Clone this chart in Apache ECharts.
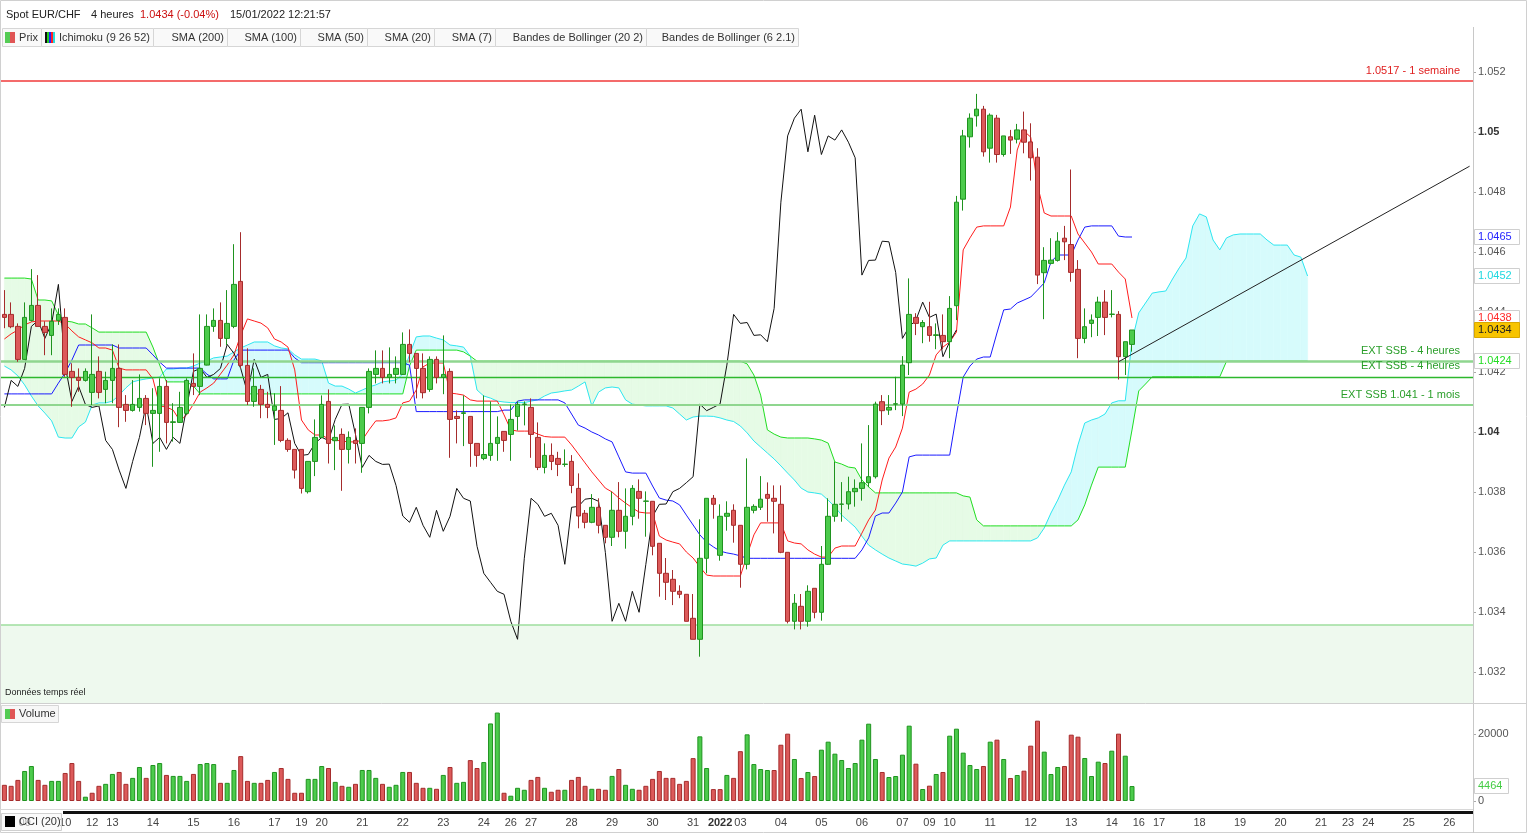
<!DOCTYPE html>
<html><head><meta charset="utf-8">
<script src="https://cdn.jsdelivr.net/npm/echarts@6/dist/echarts.min.js"></script>
<style>html,body{margin:0;padding:0;background:#fff;}#c{width:1527px;height:833px;}</style>
</head><body><div id="c"></div>
<script>
// ---------- DATA ----------
const opens = [
/*0*/ 1.04392,1.04392,1.04352,1.04242,1.04372,1.04422,1.04352,1.04322,1.04372,1.04382,
/*10*/1.04202,1.04182,1.04172,1.04132,1.04202,1.04142,1.04172,1.04212,1.04092,1.04072,
/*20*/1.04082,1.04112,1.04062,1.04062,1.04152,1.04032,1.04032,1.04062,1.04162,1.04152,
/*30*/1.04223,1.04352,1.04372,1.04312,1.04352,1.04502,1.04222,1.04102,1.04142,1.04092,
/*40*/1.04072,1.04072,1.03972,1.03942,1.03942,1.03801,1.03902,1.03982,1.04102,1.03971,
/*50*/1.03992,1.03942,1.03972,1.03962,1.04082,1.04192,1.04212,1.04182,1.04192,1.04192,
/*60*/1.04292,1.04262,1.04212,1.04142,1.04242,1.04182,1.04202,1.04052,1.04062,1.04052,
/*70*/1.03962,1.03912,1.03922,1.03962,1.04002,1.03992,1.04052,1.04092,1.04082,1.03982,
/*80*/1.03882,1.03922,1.03912,1.03892,1.03902,1.03812,1.03729,1.03699,1.03749,1.03689,
/*90*/1.03649,1.03739,1.03669,1.03719,1.03802,1.03769,1.03769,1.03629,1.03529,1.03509,
/*100*/1.03469,1.03459,1.03379,1.03309,1.03579,1.03779,1.03589,1.03719,1.03739,1.03689,
/*110*/1.03559,1.03739,1.03749,1.03792,1.03779,1.03759,1.03599,1.03369,1.03419,1.03369,
/*120*/1.03479,1.03399,1.03559,1.03719,1.03759,1.0376,1.03801,1.03812,1.03831,1.03851,
/*130*/1.04101,1.04073,1.04093,1.04093,1.04231,1.04382,1.04351,1.04351,1.04322,1.04322,
/*140*/1.04301,1.04421,1.04776,1.04984,1.05054,1.05076,1.04946,1.05046,1.04925,1.04984,
/*150*/1.04976,1.05007,1.04967,1.04916,1.04531,1.04562,1.04572,1.04646,1.04625,1.04542,
/*160*/1.04312,1.04362,1.04382,1.04433,1.04392,1.04392,1.04251,1.04292];
const closes = [
/*0*/ 1.04382,1.04351,1.04242,1.04382,1.04422,1.04352,1.04332,1.04369,1.04392,1.04192,
/*10*/1.04182,1.04172,1.04202,1.04192,1.04132,1.04172,1.04212,1.04082,1.04072,1.04092,
/*20*/1.04112,1.04062,1.04072,1.04152,1.04032,1.04034,1.04082,1.04172,1.04152,1.04212,
/*30*/1.04352,1.04372,1.04312,1.04362,1.04492,1.04222,1.04102,1.04152,1.04092,1.04082,
/*40*/1.04087,1.03972,1.03942,1.03873,1.03812,1.03902,1.03982,1.04092,1.03962,1.03982,
/*50*/1.03942,1.03982,1.03962,1.04082,1.04202,1.04212,1.04182,1.04192,1.04212,1.04292,
/*60*/1.04262,1.04212,1.04131,1.04242,1.04182,1.04192,1.04042,1.04045,1.04064,1.03962,
/*70*/1.03922,1.03925,1.03962,1.03982,1.03972,1.04042,1.04092,1.04093,1.03992,1.03882,
/*80*/1.03922,1.03902,1.03892,1.03893,1.03822,1.0372,1.03699,1.03749,1.03689,1.03649,
/*90*/1.03739,1.03669,1.03719,1.03812,1.03779,1.0377,1.03619,1.03529,1.03499,1.03469,
/*100*/1.03459,1.03369,1.03309,1.03579,1.03779,1.03759,1.03719,1.03729,1.03689,1.03559,
/*110*/1.03749,1.03752,1.03776,1.03779,1.03769,1.03599,1.03369,1.03429,1.03369,1.03469,
/*120*/1.03399,1.03559,1.03719,1.03759,1.0376,1.03801,1.03812,1.03831,1.03851,1.04093,
/*130*/1.04071,1.04082,1.04094,1.04223,1.04392,1.04362,1.04365,1.04322,1.04324,1.04301,
/*140*/1.04412,1.04766,1.04987,1.05046,1.05076,1.04934,1.05056,1.04925,1.04987,1.04973,
/*150*/1.05007,1.04966,1.04914,1.04523,1.04572,1.04573,1.04636,1.04634,1.04532,1.04312,
/*160*/1.04351,1.04373,1.04433,1.04382,1.04393,1.04251,1.04301,1.0434];
const lows = [
/*0*/ 1.04346,1.04346,1.04234,1.0424,1.04368,1.04352,1.04256,1.04256,1.04357,1.04184,
/*10*/1.04084,1.04134,1.04168,1.0409,1.04112,1.04096,1.04096,1.04016,1.04034,1.04068,
/*20*/1.04068,1.04023,1.03884,1.03934,1.03962,1.03968,1.0403,1.04057,1.04123,1.04123,
/*30*/1.04222,1.04334,1.04284,1.0429,1.04346,1.04212,1.0409,1.04084,1.04046,1.04046,
/*40*/1.03957,1.03966,1.03934,1.03845,1.03795,1.03795,1.03853,1.03979,1.03895,1.03873,
/*50*/1.03804,1.03895,1.03895,1.03864,1.04062,1.04162,1.04162,1.04162,1.04162,1.0419,
/*60*/1.04232,1.04112,1.04112,1.04134,1.04162,1.04126,1.03914,1.03962,1.03953,1.03884,
/*70*/1.03884,1.03906,1.03904,1.03904,1.03934,1.03904,1.04005,1.04022,1.03914,1.03873,
/*80*/1.03862,1.03873,1.03853,1.03884,1.03796,1.03679,1.03679,1.03696,1.03662,1.03629,
/*90*/1.0362,1.03649,1.03611,1.03689,1.03711,1.03651,1.03589,1.03451,1.0344,1.03423,
/*100*/1.03446,1.03369,1.03309,1.03251,1.03529,1.03711,1.03571,1.03671,1.03631,1.03481,
/*110*/1.03542,1.03729,1.0374,1.03701,1.03662,1.03596,1.03362,1.03342,1.03342,1.03351,
/*120*/1.03379,1.03371,1.03557,1.03701,1.03701,1.03742,1.03751,1.03771,1.03816,1.03845,
/*130*/1.04023,1.04057,1.04073,1.04053,1.0419,1.04323,1.04296,1.04301,1.04276,1.04276,
/*140*/1.04246,1.04373,1.04738,1.04948,1.05018,1.04918,1.04898,1.04898,1.04918,1.04927,
/*150*/1.04962,1.04929,1.04838,1.04493,1.04376,1.04559,1.04568,1.04573,1.04501,1.04246,
/*160*/1.04296,1.04316,1.0432,1.04323,1.04382,1.04175,1.0419,1.04268];
const highs = [
/*0*/ 1.04473,1.04432,1.04362,1.04432,1.04543,1.04523,1.04369,1.04412,1.04412,1.04412,
/*10*/1.04229,1.04212,1.04212,1.04392,1.04252,1.04201,1.04292,1.04292,1.04123,1.04173,
/*20*/1.04192,1.04123,1.04146,1.04179,1.04173,1.04096,1.04134,1.04179,1.04262,1.04392,
/*30*/1.04392,1.04412,1.04432,1.04473,1.04626,1.04666,1.04279,1.04212,1.04157,1.04134,
/*40*/1.04129,1.04153,1.03979,1.03942,1.03942,1.03902,1.04042,1.04122,1.04142,1.04022,
/*50*/1.04012,1.04002,1.04012,1.04082,1.04212,1.04272,1.04272,1.04282,1.04252,1.04332,
/*60*/1.04342,1.04262,1.04262,1.04252,1.04252,1.04322,1.04212,1.04072,1.04122,1.04052,
/*70*/1.03962,1.04122,1.04102,1.04052,1.04002,1.04092,1.04102,1.04102,1.04112,1.04032,
/*80*/1.03962,1.03962,1.03934,1.03942,1.03923,1.03862,1.0374,1.03793,1.03779,1.03689,
/*90*/1.03801,1.03833,1.03812,1.03823,1.03842,1.03802,1.03769,1.03629,1.0358,1.0354,
/*100*/1.03489,1.03459,1.0346,1.03709,1.03779,1.0379,1.03759,1.03769,1.03759,1.03689,
/*110*/1.03912,1.03759,1.03853,1.03832,1.03822,1.03822,1.03599,1.0346,1.0346,1.03489,
/*120*/1.03479,1.0362,1.03779,1.03901,1.03833,1.03851,1.03842,1.03962,1.04023,1.04101,
/*130*/1.04123,1.04123,1.04184,1.04253,1.04512,1.04396,1.04373,1.04434,1.04362,1.04392,
/*140*/1.04453,1.04787,1.05007,1.05062,1.05127,1.05087,1.05062,1.05057,1.04987,1.05007,
/*150*/1.05027,1.05068,1.05029,1.04946,1.04616,1.04646,1.04666,1.04687,1.04875,1.04573,
/*160*/1.04412,1.04392,1.04451,1.04473,1.04473,1.04403,1.04301,1.0434];
const volumes = [
/*0*/ 4830,4530,6300,8960,10440,6300,4830,6000,6000,8370,
/*10*/11330,6000,1280,2460,4530,5120,8080,8670,5120,6900,
/*20*/10150,6900,10740,11330,7780,7490,7490,6000,8080,11030,
/*30*/11330,11030,5420,5420,9260,13400,6000,5420,5420,6300,
/*40*/8670,9850,6600,2460,2460,6600,6600,10440,9850,5710,
/*50*/4530,4240,5120,9260,9260,6900,5120,4240,4830,8670,
/*60*/8670,5420,3940,3940,3640,7780,10150,5420,5710,12210,
/*70*/9850,11620,23150,26400,2460,1580,3940,3350,6300,7190,
/*80*/3940,2760,3350,3350,6300,7190,4530,3640,3640,3350,
/*90*/7490,9550,4830,3640,3350,4530,6600,8960,6900,6900,
/*100*/5120,6000,12800,19300,9850,3550,3550,7780,6900,14870,
/*110*/19900,11030,9550,9250,9250,16800,20100,12540,6870,8660,
/*120*/7460,15320,17710,14130,12240,9850,11340,18310,23080,12540,
/*130*/8660,7160,7460,13830,22490,11140,3580,4580,8060,8660,
/*140*/19500,21590,14430,10750,9550,10450,17710,18310,12540,6870,
/*150*/7760,9050,16520,23980,14730,8060,10150,10450,19800,19200,
/*160*/12840,7460,11740,11340,15020,20100,13530,4464];
// Ichimoku lines
const tenkan = [
/*0*/ 1.0431,1.04327,1.0434,1.04357,1.04367,1.0437,1.0437,1.0437,1.0437,1.0436,
/*10*/1.04337,1.04317,1.04307,1.04297,1.0428,1.0428,1.04273,1.04213,1.04207,1.04207,
/*20*/1.04207,1.04207,1.04177,1.04087,1.04083,1.04073,1.04037,1.04057,1.04093,1.04133,
/*30*/1.04147,1.04163,1.04193,1.04223,1.04257,1.04323,1.04377,1.0437,1.04363,1.04347,
/*40*/1.0431,1.043,1.04283,1.04207,1.0404,1.04007,1.0399,1.0399,1.03977,1.03973,
/*50*/1.0397,1.03967,1.03967,1.03973,1.04007,1.04037,1.04037,1.0404,1.04047,1.04097,
/*60*/1.04103,1.0414,1.04217,1.0423,1.0423,1.0423,1.0413,1.04127,1.04123,1.04107,
/*70*/1.04103,1.04103,1.04103,1.04103,1.04057,1.04007,1.04003,1.04003,1.04003,1.03993,
/*80*/1.03985,1.03983,1.03983,1.03983,1.03957,1.03927,1.03897,1.03867,1.0384,1.03813,
/*90*/1.038,1.0378,1.03763,1.03747,1.03733,1.0373,1.0373,1.03653,1.0364,1.03633,
/*100*/1.03627,1.036,1.0358,1.0355,1.03523,1.0352,1.0352,1.0352,1.0352,1.0352,
/*110*/1.0359,1.03657,1.03697,1.03697,1.03697,1.03697,1.03637,1.0363,1.03627,1.03607,
/*120*/1.03593,1.03583,1.03583,1.03613,1.0362,1.0362,1.0362,1.03663,1.03707,1.0374,
/*130*/1.0384,1.03913,1.0395,1.04013,1.04133,1.04143,1.0416,1.0419,1.04257,1.04283,
/*140*/1.043,1.04333,1.04607,1.04647,1.04683,1.04687,1.04687,1.04687,1.04687,1.0475,
/*150*/1.0494,1.05003,1.04983,1.04823,1.0473,1.0472,1.0472,1.0472,1.0472,1.0466,
/*160*/1.0463,1.046,1.0456,1.0456,1.0456,1.04533,1.0451,1.0438];
const kijun = [
/*0*/ 1.04127,1.04127,1.04127,1.04127,1.04127,1.04127,1.04127,1.04127,1.04163,1.04197,
/*10*/1.0424,1.0429,1.0429,1.0429,1.0429,1.0429,1.0429,1.0428,1.0428,1.0428,
/*20*/1.0428,1.0428,1.04257,1.04233,1.04213,1.04213,1.04213,1.04213,1.04213,1.04213,
/*30*/1.04193,1.04177,1.04177,1.04177,1.0424,1.04273,1.04273,1.04273,1.04273,1.04273,
/*40*/1.04273,1.04273,1.04273,1.04247,1.04231,1.04231,1.04231,1.04231,1.04231,1.04231,
/*50*/1.04231,1.04231,1.04231,1.04231,1.04231,1.04231,1.04231,1.04231,1.04231,1.04231,
/*60*/1.04223,1.04068,1.04068,1.04068,1.04068,1.04068,1.04068,1.04068,1.04068,1.04068,
/*70*/1.04068,1.04068,1.04068,1.04068,1.04073,1.04073,1.04103,1.04107,1.04107,1.04107,
/*80*/1.04107,1.04107,1.04107,1.04097,1.0406,1.04023,1.04013,1.04,1.0399,1.03977,
/*90*/1.03967,1.03917,1.03867,1.03863,1.03863,1.03863,1.0382,1.0378,1.03773,1.0377,
/*100*/1.03757,1.03723,1.0369,1.03657,1.03633,1.03617,1.03603,1.03597,1.03593,1.03587,
/*110*/1.03579,1.03579,1.03579,1.03579,1.03579,1.03579,1.03579,1.03579,1.03579,1.03579,
/*120*/1.03579,1.03579,1.03579,1.03579,1.03579,1.03579,1.03579,1.03607,1.03647,1.0372,
/*130*/1.0373,1.0373,1.03763,1.038,1.03917,1.03923,1.03923,1.03923,1.03923,1.03923,
/*140*/1.03923,1.04057,1.04183,1.0422,1.04243,1.0425,1.0425,1.0433,1.04407,1.0441,
/*150*/1.0443,1.0444,1.0445,1.04473,1.04497,1.04567,1.0459,1.0459,1.0459,1.0464,
/*160*/1.04683,1.04687,1.04687,1.04687,1.04687,1.04653,1.0465,1.0465];
const senkouA = [
/*0*/ 1.0422,1.04207,1.04187,1.04157,1.0412,1.04087,1.04063,1.04037,1.03983,1.0398,
/*10*/1.0398,1.04017,1.04033,1.0409,1.04097,1.04097,1.04103,1.04123,1.04147,1.04167,
/*20*/1.04173,1.04177,1.0418,1.04183,1.0421,1.0421,1.04213,1.04213,1.0422,1.0423,
/*30*/1.04237,1.04247,1.0425,1.04253,1.04267,1.0428,1.0429,1.043,1.043,1.043,
/*40*/1.04287,1.0428,1.04277,1.04257,1.04243,1.04243,1.04243,1.04237,1.04163,1.04153,
/*50*/1.04153,1.04143,1.0413,1.0414,1.0415,1.04157,1.04167,1.0417,1.04173,1.04193,
/*60*/1.04257,1.04317,1.0432,1.0432,1.04313,1.04307,1.0429,1.04287,1.04283,1.04253,
/*70*/1.0414,1.0412,1.04113,1.04103,1.041,1.04098,1.04098,1.04098,1.04103,1.04107,
/*80*/1.0412,1.0413,1.04133,1.04137,1.0414,1.04153,1.04167,1.04087,1.04133,1.04147,
/*90*/1.0415,1.04147,1.04107,1.04093,1.0409,1.04087,1.04087,1.04087,1.04087,1.0408,
/*100*/1.0406,1.0404,1.0405,1.04053,1.04053,1.04052,1.04047,1.0404,1.04035,1.0402,
/*110*/1.03997,1.0397,1.0395,1.0393,1.0391,1.03887,1.03863,1.0384,1.03813,1.038,
/*120*/1.03797,1.03793,1.03773,1.0375,1.03723,1.03703,1.03683,1.03653,1.03623,1.03607,
/*130*/1.03593,1.0358,1.0357,1.0356,1.03557,1.03553,1.03563,1.03577,1.0358,1.03623,
/*140*/1.03637,1.03637,1.03637,1.03637,1.03637,1.03637,1.03637,1.03637,1.03637,1.03637,
/*150*/1.03637,1.03637,1.03637,1.03647,1.0368,1.0373,1.03773,1.03823,1.03867,1.03957,
/*160*/1.0403,1.0404,1.04047,1.0406,1.04097,1.04104,1.04104,1.04303,1.04397,1.0443,
/*170*/1.04463,1.04467,1.0447,1.0451,1.04547,1.0458,1.04687,1.04727,1.04717,1.0464,
/*180*/1.04607,1.04647,1.04657,1.0466,1.0466,1.0466,1.0466,1.0464,1.04623,1.04623,
/*190*/1.04623,1.0459,1.04583,1.0452];
const senkouB = [
/*0*/ 1.04513,1.04513,1.04513,1.04513,1.0451,1.0444,1.0444,1.04437,1.0439,1.0437,
/*10*/1.04367,1.0436,1.0436,1.04347,1.04333,1.04333,1.04333,1.04333,1.04333,1.04333,
/*20*/1.04333,1.04333,1.04283,1.04223,1.04167,1.04167,1.04167,1.04167,1.04153,1.04127,
/*30*/1.04127,1.04127,1.04127,1.04127,1.04127,1.04127,1.04127,1.04127,1.04127,1.04127,
/*40*/1.04127,1.04127,1.04127,1.04127,1.04127,1.04127,1.04127,1.04127,1.04127,1.04127,
/*50*/1.04127,1.04127,1.04127,1.04127,1.04127,1.04127,1.04127,1.04127,1.04127,1.04127,
/*60*/1.0422,1.04273,1.04273,1.04273,1.04273,1.04273,1.04273,1.04273,1.04267,1.04253,
/*70*/1.04236,1.04236,1.04236,1.04236,1.04236,1.04236,1.04236,1.04236,1.04236,1.04236,
/*80*/1.04236,1.04236,1.04236,1.04236,1.04236,1.04236,1.04236,1.04236,1.04236,1.04236,
/*90*/1.04236,1.04236,1.04236,1.04236,1.04236,1.04236,1.04236,1.04236,1.04236,1.04236,
/*100*/1.04236,1.04236,1.04236,1.04236,1.04236,1.04236,1.04236,1.04236,1.04236,1.04236,
/*110*/1.04227,1.0419,1.04123,1.04007,1.03993,1.03983,1.0398,1.0398,1.0398,1.0398,
/*120*/1.03977,1.03973,1.03963,1.039,1.03893,1.03883,1.0388,1.0384,1.03817,1.03797,
/*130*/1.03797,1.03797,1.03797,1.03797,1.03797,1.03797,1.03797,1.03797,1.03797,1.03797,
/*140*/1.03797,1.03797,1.03787,1.03783,1.03707,1.03687,1.03687,1.03687,1.03687,1.03687,
/*150*/1.03687,1.03687,1.03687,1.03687,1.03687,1.03687,1.03687,1.03687,1.03687,1.03707,
/*160*/1.03757,1.03823,1.03883,1.03883,1.03883,1.03883,1.03883,1.04007,1.04137,1.0416,
/*170*/1.04184,1.04184,1.04184,1.04184,1.04184,1.04184,1.04184,1.04184,1.04184,1.04184,
/*180*/1.04184,1.04236,1.04236,1.04236,1.04236,1.04236,1.04236,1.04236,1.04236,1.04236,
/*190*/1.04236,1.04236,1.04236,1.04236];
const CHIKOU_SHIFT = 26;
const SLOT_COUNT = 218;
const dayStarts = [[3,'09'],[9,'10'],[13,'12'],[16,'13'],[22,'14'],[28,'15'],[34,'16'],[40,'17'],[44,'19'],[47,'20'],
 [53,'21'],[59,'22'],[65,'23'],[71,'24'],[75,'26'],[78,'27'],[84,'28'],[90,'29'],[96,'30'],[102,'31'],
 [106,'2022'],[109,'03'],[115,'04'],[121,'05'],[127,'06'],[133,'07'],[137,'09'],[140,'10'],[146,'11'],[152,'12'],
 [158,'13'],[164,'14'],[168,'16'],[171,'17'],[177,'18'],[183,'19'],[189,'20'],[195,'21'],[199,'23'],[202,'24'],
 [208,'25'],[214,'26']];
const priceTicks = [1.032,1.034,1.036,1.038,1.04,1.042,1.044,1.046,1.048,1.05,1.052];
const boldTicks = [1.04,1.05];
const volumeTicks = [0,20000];
const levels = [
 {value:1.0517, text:'1.0517 - 1 semaine', kind:'week'},
 {value:1.04236, text:'EXT SSB - 4 heures', kind:'ssbA'},
 {value:1.04184, text:'EXT SSB - 4 heures', kind:'ssbB'},
 {value:1.0409, text:'EXT SSB 1.041 - 1 mois', kind:'month'},
 {value:1.03357, text:'', kind:'zone'}];
const trendLine = [[165,1.04234],[217,1.04886]];
const legendItems = ['Prix','Ichimoku (9 26 52)','SMA (200)','SMA (100)','SMA (50)','SMA (20)','SMA (7)','Bandes de Bollinger (20 2)','Bandes de Bollinger (6 2.1)'];
const headerParts = ['Spot EUR/CHF','4 heures','1.0434 (-0.04%)','15/01/2022 12:21:57'];

// ---------- LAYOUT / STYLE ----------
const FONT = '"Liberation Sans", Arial, sans-serif';
const Y_MIN = 1.0544 - 703/30000, Y_MAX = 1.0544 - 27/30000;
const VOL_MAX = 20000*96/67;
const UP = '#4ccb4c', UP_B = '#1f931f', DN = '#dc5a5a', DN_B = '#a52c2c';
const levelStyles = {
  week:{color:'#f03a3a', width:1.5, text:'#e02020'},
  ssbA:{color:'#8fd68f', width:2.5, text:'#2a9e2a'},
  ssbB:{color:'#2db82d', width:1.4, text:'#2a9e2a'},
  month:{color:'#8fd68f', width:2, text:'#2a9e2a'},
  zone:{color:'#9ede9e', width:1.5, text:'#2a9e2a'}};
const legendBoxes = [[2,39],[41,112],[153,74],[227,73],[300,67],[367,67],[434,61],[495,151],[646,152]];
const headerX = [6,91,140,230];

const labelMap = {}; dayStarts.forEach(d => labelMap[d[0]] = d[1]);
const categories = [];
{ let cur = '08', n = 0; for (let i = 0; i < SLOT_COUNT; i++) { if (labelMap[i]) { cur = labelMap[i]; n = 0; } categories.push(cur + '#' + (n++)); } }

const candleData = opens.map((o,i) => [o, closes[i], lows[i], highs[i]]);
const chikou = closes.slice(CHIKOU_SHIFT);
const volData = volumes.map((v,i) => {
  const up = i === 0 ? closes[i] >= opens[i] : closes[i] >= closes[i-1];
  return {value:v, itemStyle:{color: up ? UP : DN, borderColor: up ? UP_B : DN_B}};
});
const cloudData = senkouA.slice(0,-1).map((a,i) => [i, a, senkouB[i], senkouA[i+1], senkouB[i+1]]);
const CLOUD_UP = '#d6fbfc', CLOUD_DN = '#e6fbe6';

function cloudItem(params, api) {
  const i = api.value(0), a0 = api.value(1), b0 = api.value(2), a1 = api.value(3), b1 = api.value(4);
  const A0 = api.coord([i,a0]), B0 = api.coord([i,b0]), A1 = api.coord([i+1,a1]), B1 = api.coord([i+1,b1]);
  const col = up => up ? CLOUD_UP : CLOUD_DN;
  const d0 = a0-b0, d1 = a1-b1;
  const poly = (pts, c) => ({type:'polygon', shape:{points:pts}, style:{fill:c, stroke:c, lineWidth:0.6}});
  if (d0*d1 >= 0) return poly([A0,A1,B1,B0], col(d0+d1 >= 0));
  const t = d0/(d0-d1);
  const P = [A0[0]+(A1[0]-A0[0])*t, A0[1]+(A1[1]-A0[1])*t];
  return {type:'group', children:[poly([A0,P,B0], col(d0>0)), poly([P,A1,B1], col(d1>0))]};
}

const chart = echarts.init(document.getElementById('c'));
const lineS = (name, data, color, z) => ({type:'line', name, data, xAxisIndex:0, yAxisIndex:0, symbol:'none', showSymbol:false, silent:true, z:z||3, lineStyle:{color, width:1}});

const staticGraphics = [];
staticGraphics.push({type:'rect', shape:{x:0.5,y:0.5,width:1526,height:832}, style:{fill:'none', stroke:'#d0d0d0'}, z:100});
staticGraphics.push({type:'line', shape:{x1:1473.5,y1:27,x2:1473.5,y2:833}, style:{stroke:'#c8c8c8'}, z:100});
staticGraphics.push({type:'line', shape:{x1:0,y1:703.5,x2:1527,y2:703.5}, style:{stroke:'#cfcfcf'}, z:100});
staticGraphics.push({type:'line', shape:{x1:0,y1:809.5,x2:1473,y2:809.5}, style:{stroke:'#d8d8d8'}, z:100});
staticGraphics.push({type:'rect', shape:{x:63,y:811,width:1410,height:3}, style:{fill:'#111'}, z:100});
headerParts.forEach((t,k) => staticGraphics.push({type:'text', x:headerX[k], y:15, style:{text:t, fill: k===2 ? '#cc1010' : '#222', font:'11px '+FONT, verticalAlign:'middle'}, z:110}));
legendItems.forEach((t,k) => {
  const [x,w] = legendBoxes[k];
  staticGraphics.push({type:'rect', shape:{x:x+0.5,y:28.5,width:w,height:18}, style:{fill:'#f9f9f9', stroke:'#d6d6d6'}, z:110});
  staticGraphics.push({type:'text', x:x+w-3, y:38, style:{text:t, fill:'#333', font:'11px '+FONT, align:'right', verticalAlign:'middle'}, z:111});
});
staticGraphics.push({type:'rect', shape:{x:5,y:32,width:5,height:11}, style:{fill:'#55cc55'}, z:112});
staticGraphics.push({type:'rect', shape:{x:10,y:32,width:5,height:11}, style:{fill:'#e05555'}, z:112});
['#111','#22cc22','#2222ff','#ff2222','#22dddd'].forEach((c,k) => staticGraphics.push({type:'rect', shape:{x:45+k*2,y:32,width:2,height:11}, style:{fill:c}, z:112}));
staticGraphics.push({type:'text', x:5, y:693, style:{text:'Données temps réel', fill:'#222', font:'9px '+FONT, verticalAlign:'middle'}, z:110});
staticGraphics.push({type:'rect', shape:{x:1.5,y:705.5,width:57,height:17}, style:{fill:'#f7f7f7', stroke:'#d6d6d6'}, z:110});
staticGraphics.push({type:'rect', shape:{x:5,y:709,width:5,height:10}, style:{fill:'#55cc55'}, z:112});
staticGraphics.push({type:'rect', shape:{x:10,y:709,width:5,height:10}, style:{fill:'#e05555'}, z:112});
staticGraphics.push({type:'text', x:19, y:714, style:{text:'Volume', fill:'#333', font:'11px '+FONT, verticalAlign:'middle'}, z:111});
staticGraphics.push({type:'rect', shape:{x:1.5,y:813.5,width:60,height:17}, style:{fill:'rgba(246,246,246,0.6)', stroke:'#d0d0d0'}, z:110});
staticGraphics.push({type:'rect', shape:{x:5,y:816,width:10,height:11}, style:{fill:'#000'}, z:112});
staticGraphics.push({type:'text', x:19, y:822, style:{text:'CCI (20)', fill:'#333', font:'11px '+FONT, verticalAlign:'middle'}, z:111});

chart.setOption({
  animation:false,
  textStyle:{fontFamily:FONT},
  grid:[{left:1, top:27, width:1472, height:676, outerBoundsMode:'none'},
        {left:1, top:705, width:1472, height:96, outerBoundsMode:'none'}],
  xAxis:[
    {type:'category', gridIndex:0, data:categories, boundaryGap:true, axisLine:{show:false}, axisTick:{show:false}, axisLabel:{show:false}, splitLine:{show:false}},
    {type:'category', gridIndex:1, data:categories, boundaryGap:true, axisLine:{show:false}, axisTick:{show:false}, splitLine:{show:false},
     axisLabel:{interval:(idx) => labelMap[idx] !== undefined, margin:16, fontSize:11, color:'#444',
       formatter:(v, idx) => labelMap[idx] === '2022' ? '{b|2022}' : (labelMap[idx] || ''), rich:{b:{fontWeight:'bold', fontSize:11, color:'#333'}}}}
  ],
  yAxis:[
    {type:'value', gridIndex:0, position:'right', min:Y_MIN, max:Y_MAX, splitLine:{show:false}, axisLine:{show:false},
     axisTick:{show:true, customValues:priceTicks, length:3, lineStyle:{color:'#aaa'}},
     axisLabel:{customValues:priceTicks, margin:5, fontSize:11, color:'#555',
       formatter:(v) => { const t = String(+(+v).toFixed(3)); return boldTicks.some(b => Math.abs(b-v) < 1e-9) ? '{b|'+t+'}' : t; },
       rich:{b:{fontWeight:'bold', color:'#333', fontSize:11}}}},
    {type:'value', gridIndex:1, position:'right', min:0, max:VOL_MAX, splitLine:{show:false}, axisLine:{show:false},
     axisTick:{show:true, customValues:volumeTicks, length:3, lineStyle:{color:'#aaa'}},
     axisLabel:{customValues:volumeTicks, margin:5, fontSize:11, color:'#555', formatter:(v) => String(Math.round(v))}}
  ],
  series:[
    {type:'custom', name:'Nuage', xAxisIndex:0, yAxisIndex:0, data:cloudData, renderItem:cloudItem, encode:{x:0, y:[1,2,3,4]}, silent:true, z:1, clip:true},
    {type:'line', name:'Niveaux', xAxisIndex:0, yAxisIndex:0, data:closes, symbol:'none', silent:true, z:2, lineStyle:{opacity:0, width:0},
     markArea:{silent:true, itemStyle:{color:'#eef9ee'}, data:[[{yAxis:levels[4].value},{yAxis:Y_MIN}]]},
     markLine:{symbol:['none','none'], silent:true, animation:false, precision:6,
       data: levels.map(l => ({yAxis:l.value, lineStyle:{color:levelStyles[l.kind].color, width:levelStyles[l.kind].width, type:'solid', opacity:1},
         label:{show: !!l.text, formatter:l.text, position:'insideEndTop', color:levelStyles[l.kind].text, fontSize:11, distance:[13,5]}}))}},
    lineS('SSA', senkouA, '#2fe6f0', 3),
    lineS('SSB', senkouB, '#22dd22', 3),
    lineS('Kijun', kijun, '#1a1aff', 3),
    lineS('Tenkan', tenkan, '#ff1c1c', 3),
    lineS('Chikou', chikou, '#111', 3),
    {type:'candlestick', name:'Prix', xAxisIndex:0, yAxisIndex:0, data:candleData, barWidth:5, z:5, silent:true,
     itemStyle:{color:UP, color0:DN, borderColor:UP_B, borderColor0:DN_B, borderWidth:1}},
    lineS('Tendance', trendLine, '#222', 6),
    {type:'bar', name:'Volume', xAxisIndex:1, yAxisIndex:1, data:volData, barWidth:5, silent:true, itemStyle:{borderWidth:1}}
  ],
  graphic: staticGraphics
});

// value tags on the right axis, placed through the axis scale
const tags = [
  {value:kijun[kijun.length-1], fg:'#2323ff', bg:'#fff', bd:'#cfcfcf', axis:0},
  {value:senkouA[senkouA.length-1], fg:'#1fd8e0', bg:'#fff', bd:'#cfcfcf', axis:0},
  {value:tenkan[tenkan.length-1], fg:'#ff2a2a', bg:'#fff', bd:'#cfcfcf', axis:0},
  {value:closes[closes.length-1], fg:'#222', bg:'#f7c400', bd:'#d9a800', axis:0},
  {value:senkouB[senkouB.length-1], fg:'#22dd22', bg:'#fff', bd:'#cfcfcf', axis:0},
  {value:volumes[volumes.length-1], fg:'#44cc44', bg:'#fff', bd:'#cfcfcf', axis:1, w:34, txt:String(volumes[volumes.length-1])}
];
const tagGraphics = [];
tags.forEach(t => {
  const y = chart.convertToPixel({yAxisIndex:t.axis}, t.value);
  const w = t.w || 45;
  tagGraphics.push({type:'rect', shape:{x:1474.5, y:Math.round(y)-7.5, width:w, height:15}, style:{fill:t.bg, stroke:t.bd}, z:120});
  tagGraphics.push({type:'text', x:1478, y:Math.round(y), style:{text: t.txt || t.value.toFixed(4), fill:t.fg, font:'11px '+FONT, verticalAlign:'middle'}, z:121});
});
chart.setOption({graphic: staticGraphics.concat(tagGraphics)});
</script></body></html>
